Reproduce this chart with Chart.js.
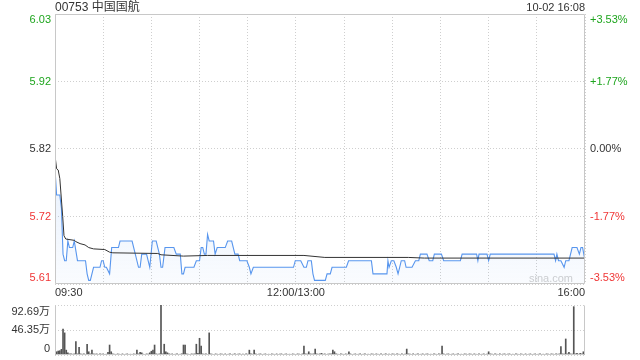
<!DOCTYPE html>
<html><head><meta charset="utf-8">
<script src="https://cdn.jsdelivr.net/npm/chart.js@4.4.1/dist/chart.umd.min.js"></script>
<style>
html,body{margin:0;padding:0;background:#fff;}
#wrap{position:relative;width:640px;height:360px;overflow:hidden;}
canvas{position:absolute;left:0;top:0;}
</style></head><body>
<div id="wrap"><canvas id="price" width="640" height="360"></canvas><canvas id="vol" width="640" height="360"></canvas></div>
<script>
// ---- data ----
const stockTitle = '00753 中国国航';
const stamp = '10-02 16:08';
const prevClose = 5.82;
const pctRange = 3.53;
const priceTickLabels = ['6.03', '5.92', '5.82', '5.72', '5.61'];
const pctTickLabels = ['+3.53%', '+1.77%', '0.00%', '-1.77%', '-3.53%'];
const timeLabels = ['09:30', '12:00/13:00', '16:00'];
const timeLabelMinutes = [0, 150, 330];
const volTickLabels = ['92.69万', '46.35万', '0'];
const volMax = 92.69;

// last-price line: vertices (trading minute since 09:30, price)
const priceMinutes = [0,1,3,4,5,6,7,8,9,11,12,14,19,20,21,22,24,28,29,30,31,32,34,35.3,39.5,40.5,48,50,52,53,54,57,59,60.6,63,65,66,67,68.5,74,75.5,78,79,80,81,86.5,88,90,91,92,93,94,95,96,98.7,99.7,101,106,107.5,110,112,114,115,119.5,121,122,123.5,148.5,149.6,153,155,156.5,157.5,159.6,160.6,161.6,168.3,169.4,171.4,172.5,181.4,182.8,197,198,206.7,207.3,208,209.4,211,212.5,213.6,214.6,215.6,217.7,218.6,222.3,224.4,226.5,227.5,231.6,233,235.2,236.2,240.6,242,252.4,253.5,262.5,263.3,264,269,270,271,310.7,311.7,312.5,313.5,315,317,318,320,322,325,326.5,327.5,328.5,330];
const priceValues = [5.79,5.75,5.75,5.73,5.66,5.65,5.65,5.68,5.67,5.67,5.68,5.65,5.65,5.63,5.62,5.62,5.64,5.64,5.65,5.65,5.64,5.64,5.63,5.67,5.67,5.68,5.68,5.66,5.64,5.64,5.66,5.66,5.64,5.68,5.68,5.66,5.64,5.64,5.67,5.67,5.66,5.66,5.63,5.63,5.64,5.64,5.65,5.65,5.67,5.67,5.66,5.66,5.69,5.68,5.68,5.66,5.67,5.67,5.68,5.68,5.66,5.66,5.65,5.65,5.64,5.63,5.64,5.64,5.65,5.65,5.64,5.64,5.65,5.65,5.63,5.62,5.62,5.63,5.63,5.64,5.64,5.65,5.65,5.63,5.63,5.65,5.64,5.65,5.65,5.64,5.63,5.64,5.65,5.65,5.64,5.64,5.65,5.65,5.66,5.66,5.65,5.65,5.66,5.66,5.65,5.65,5.66,5.66,5.65,5.66,5.66,5.65,5.66,5.66,5.65,5.66,5.65,5.65,5.64,5.65,5.65,5.67,5.67,5.66,5.67,5.67,5.65];

// average-price line vertices
const avgMinutes = [0,1,2,3,4.8,5.6,6.7,12,13,15.6,18.7,21,24,31,34,36,64,66,80,95,155,168,220,230,330];
const avgValues = [5.81,5.79,5.788,5.775,5.717,5.688,5.683,5.681,5.679,5.676,5.674,5.670,5.668,5.667,5.663,5.662,5.661,5.659,5.657,5.658,5.658,5.655,5.655,5.654,5.654];

// volume per minute (万), 09:30 .. 16:00
const volumes = [
9,6,7.4,8,10.5,48,41,9,4,2,
2,1.5,2,24.7,2,14,2,1.5,2,1,
20,6,2,9,2,1.5,2,1,2,1.5,
2,1,1.5,5,18.5,6,2,1.5,1,2,
1.5,1,2,1,1.5,2,1,1.5,1,2,
1.5,9,2,5,4,1.5,1,2,1.5,4,
7,9,18.5,2,1.5,2,92.69,2,20,6,
4,2,1.5,2,1,1.5,2,1,1.5,2,
18.5,18.5,2,1.5,1,2,1.5,2,20,3,
31,16.7,2,1.5,2,1,41,2,1.5,1,
2,1.5,1,2,1.5,1,2,1,1.5,2,
1,1.5,2,1,1.5,2,1,1.5,1,2,
1.5,9,2,1.5,9,2,1,1.5,2,1,
1.5,2,1,1.5,1,2,1.5,1,2,1,
1.5,2,1,1.5,2,1,1.5,1,2,1.5,
1,2,1.5,1,2,16.7,2,1.5,6,2,
1.5,2,11,2,1.5,2,3,1.5,2,1,
1.5,2,2,9,6,2,1.5,1,2,1.5,
1,2,1.5,6,2,1,1.5,2,1,1.5,
2,1,1.5,2,1,1.5,1,2,1.5,1,
2,1.5,1,2,1,1.5,2,1,1.5,1,
2,1.5,1,2,1.5,1,2,1,1.5,11,
2,1.5,1,2,1,1.5,2,1,1.5,2,
1,1.5,2,1,1.5,1,2,1.5,1,2,
1.5,16.7,2,1,1.5,2,1,1.5,2,1,
1.5,2,1,1.5,1,2,1.5,1,2,1.5,
1,2,1.5,1,2,1,1.5,2,1,1.5,
6,2,1.5,1,2,1.5,1,2,1,1.5,
2,1,1.5,2,1,1.5,1,2,1.5,1,
2,1.5,1,2,1,1.5,2,1,1.5,2,
1,1.5,2,1,1.5,1,2,1.5,1,2,
1.5,1,2,1.5,2,15.5,2,1.5,29.7,2,
5,2,1.5,89.6,2,3,1.5,3,2,6,4
];

// ---- derived ----
const yMin = prevClose * (1 - pctRange / 100);
const yMax = prevClose * (1 + pctRange / 100);
const priceTickValues = priceTickLabels.map((_, i) => yMax - i * (yMax - yMin) / (priceTickLabels.length - 1));
const volTickValues = volTickLabels.map((_, i) => volMax - i * volMax / (volTickLabels.length - 1));
const tickColors = ['#1ea51e', '#1ea51e', '#333333', '#f03535', '#f03535'];
const FONT = '"Liberation Sans", Arial, "Noto Sans CJK SC", sans-serif';

function clampY(y, a, pad) { return Math.min(Math.max(y, a.top + pad), a.bottom - pad); }
function zeroW(s) { s.width = 0; }
function zeroH(s) { s.height = 0; }
function drawBorder(ctx, a, sides) {
  ctx.save();
  ctx.strokeStyle = '#c8c8c8';
  ctx.lineWidth = 1;
  ctx.beginPath();
  const l = Math.round(a.left) + 0.5, r = Math.round(a.right) - 0.5, t = Math.round(a.top) + 0.5, b = Math.round(a.bottom) - 0.5;
  if (sides.top) { ctx.moveTo(l, t); ctx.lineTo(r, t); }
  ctx.moveTo(l, t); ctx.lineTo(l, b);
  ctx.moveTo(l, b); ctx.lineTo(r, b);
  ctx.moveTo(r, t); ctx.lineTo(r, b);
  ctx.stroke();
  ctx.restore();
}

const priceDecor = {
  id: 'priceDecor',
  beforeDatasetsDraw(chart) {
    const ctx = chart.ctx, a = chart.chartArea;
    ctx.save();
    ctx.font = '11px ' + FONT;
    ctx.fillStyle = '#cfcfcf';
    ctx.textAlign = 'right';
    ctx.textBaseline = 'middle';
    ctx.fillText('sina.com', a.right - 12, a.bottom - 5);
    ctx.restore();
  },
  afterDraw(chart) {
    const ctx = chart.ctx, a = chart.chartArea;
    const ys = chart.scales.y, xs = chart.scales.x;
    drawBorder(ctx, a, { top: true });
    ctx.save();
    ctx.font = '11px ' + FONT;
    ctx.textBaseline = 'middle';
    priceTickValues.forEach((v, i) => {
      const y = clampY(ys.getPixelForValue(v), a, 6);
      ctx.fillStyle = tickColors[i];
      ctx.textAlign = 'right';
      ctx.fillText(priceTickLabels[i], a.left - 4, y);
      ctx.textAlign = 'left';
      ctx.fillText(pctTickLabels[i], a.right + 5, y);
    });
    ctx.fillStyle = '#333';
    timeLabels.forEach((t, i) => {
      const x = xs.getPixelForValue(timeLabelMinutes[i]);
      ctx.textAlign = i === 0 ? 'left' : (i === timeLabels.length - 1 ? 'right' : 'center');
      ctx.fillText(t, x, a.bottom + 9);
    });
    ctx.textAlign = 'right';
    ctx.fillText(stamp, a.right, 8);
    ctx.font = '12px ' + FONT;
    ctx.textAlign = 'left';
    ctx.fillText(stockTitle, a.left, 8);
    ctx.restore();
  }
};

const volDecor = {
  id: 'volDecor',
  afterDraw(chart) {
    const ctx = chart.ctx, a = chart.chartArea, ys = chart.scales.y;
    drawBorder(ctx, a, { top: false });
    ctx.save();
    ctx.font = '11px ' + FONT;
    ctx.textBaseline = 'middle';
    ctx.textAlign = 'right';
    ctx.fillStyle = '#333';
    volTickValues.forEach((v, i) => {
      const y = clampY(ys.getPixelForValue(v), a, 6.5);
      ctx.fillText(volTickLabels[i], a.left - 5, y);
    });
    ctx.restore();
  }
};

const xGridTicks = [];
for (let m = 0; m <= 330; m += 30) xGridTicks.push(m);

const gridOpts = { color: '#cfcfcf', lineWidth: 1, drawTicks: false };
const borderOpts = { display: false, dash: [1, 2] };

new Chart(document.getElementById('price'), {
  type: 'line',
  data: {
    datasets: [
      {
        label: 'avg',
        data: avgMinutes.map((m, i) => ({ x: m, y: avgValues[i] })),
        borderColor: '#333333',
        borderWidth: 1,
        pointRadius: 0,
        tension: 0,
        fill: false
      },
      {
        label: 'price',
        data: priceMinutes.map((m, i) => ({ x: m, y: priceValues[i] })),
        borderColor: '#5896ee',
        borderWidth: 1.1,
        pointRadius: 0,
        tension: 0,
        fill: 'start',
        backgroundColor: (c) => {
          const a = c.chart.chartArea;
          if (!a) return 'rgba(88,150,238,0.08)';
          const g = c.chart.ctx.createLinearGradient(0, a.top + 130, 0, a.bottom);
          g.addColorStop(0, 'rgba(88,150,238,0.16)');
          g.addColorStop(1, 'rgba(88,150,238,0.03)');
          return g;
        }
      }
    ]
  },
  options: {
    responsive: false,
    animation: false,
    devicePixelRatio: 1,
    layout: { padding: { left: 55, right: 55, top: 14, bottom: 76 } },
    plugins: { legend: { display: false }, tooltip: { enabled: false } },
    scales: {
      x: {
        type: 'linear', min: 0, max: 330,
        afterFit: zeroH,
        afterBuildTicks: (s) => { s.ticks = xGridTicks.map(v => ({ value: v })); },
        ticks: { display: false },
        grid: gridOpts, border: borderOpts
      },
      y: {
        type: 'linear', min: yMin, max: yMax,
        afterFit: zeroW,
        afterBuildTicks: (s) => { s.ticks = priceTickValues.map(v => ({ value: v })); },
        ticks: { display: false },
        grid: gridOpts, border: borderOpts
      }
    }
  },
  plugins: [priceDecor]
});

new Chart(document.getElementById('vol'), {
  type: 'bar',
  data: {
    datasets: [{
      label: 'volume',
      data: volumes.map((v, i) => ({ x: i, y: v })),
      backgroundColor: '#555555',
      barThickness: 1,
      categoryPercentage: 1,
      barPercentage: 1
    }]
  },
  options: {
    responsive: false,
    animation: false,
    devicePixelRatio: 1,
    layout: { padding: { left: 55, right: 55, top: 305, bottom: 5 } },
    plugins: { legend: { display: false }, tooltip: { enabled: false } },
    scales: {
      x: {
        type: 'linear', min: 0, max: 330, offset: false,
        afterFit: zeroH,
        afterBuildTicks: (s) => { s.ticks = [0, 330].map(v => ({ value: v })); },
        ticks: { display: false },
        grid: { display: false, offset: false },
        border: { display: false }
      },
      y: {
        type: 'linear', min: 0, max: volMax,
        afterFit: zeroW,
        afterBuildTicks: (s) => { s.ticks = volTickValues.map(v => ({ value: v })); },
        ticks: { display: false },
        grid: gridOpts, border: borderOpts
      }
    }
  },
  plugins: [volDecor]
});
</script>
</body></html>
